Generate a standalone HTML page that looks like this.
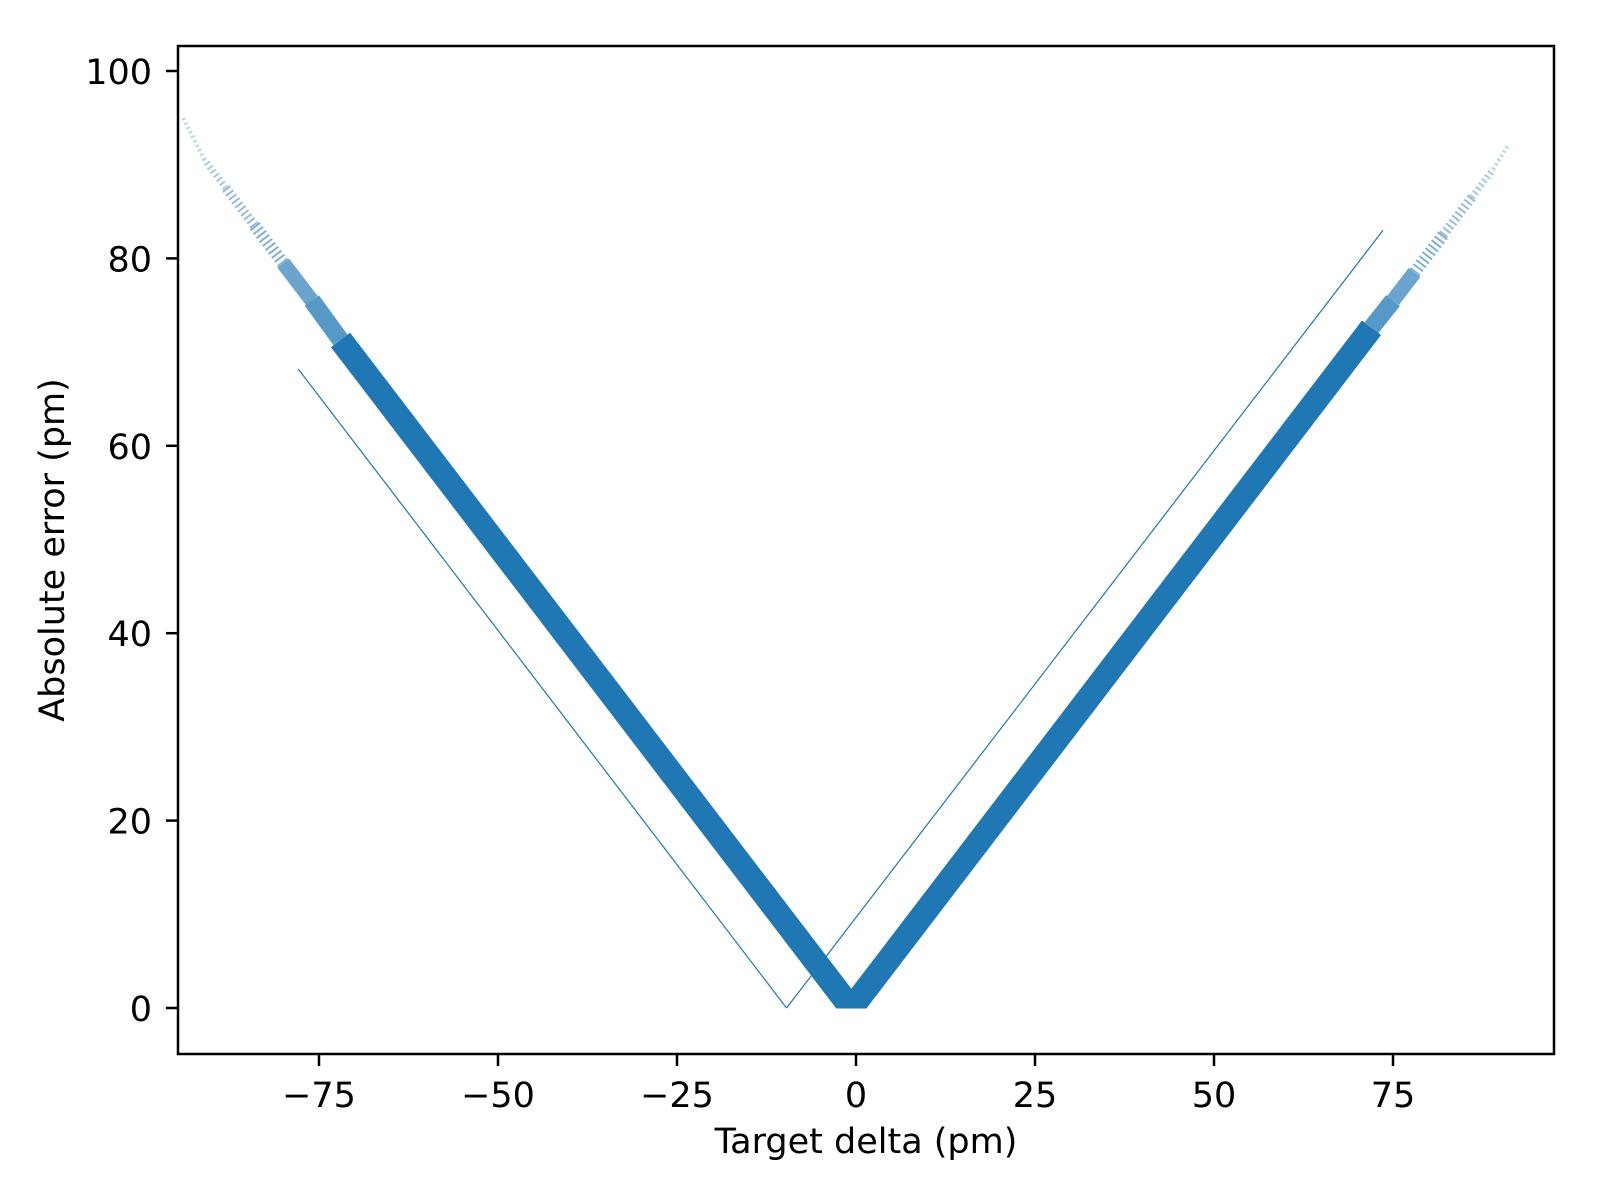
<!DOCTYPE html>
<html><head><meta charset="utf-8"><style>
html,body{margin:0;padding:0;background:#fff;}
svg{display:block;font-family:"DejaVu Sans","Liberation Sans",sans-serif;}
</style></head><body>
<svg id="chart" width="1600" height="1200" viewBox="0 0 1600 1200" xmlns="http://www.w3.org/2000/svg">
<defs><clipPath id="clip"><rect x="178" y="46" width="1376" height="962.5"/></clipPath></defs>
<rect width="1600" height="1200" fill="#fff"/>
<g id="plot" clip-path="url(#clip)"></g>
<g id="axes"></g>
</svg>
<script>
// Data arrays
const xTicks = [-75, -50, -25, 0, 25, 50, 75];
const xTickLabels = ["\u221275", "\u221250", "\u221225", "0", "25", "50", "75"];
const yTicks = [0, 20, 40, 60, 80, 100];
const yTickLabels = ["0", "20", "40", "60", "80", "100"];
// main band centre line (delta, absolute error)
const bandX = [-72, -0.65, 72];
const bandY = [71.3, -0.05, 72.6];
// sparse tails: delta, error
const leftTailX = [-72, -76, -80, -84, -88, -91, -94];
const leftTailY = [71.3, 75.5, 79.5, 83.5, 87.5, 90.5, 95];
const rightTailX = [72, 75, 78, 82, 86, 89, 91];
const rightTailY = [72.6, 75.5, 78.5, 82.5, 86.5, 89.5, 92];
// thin secondary lines (vertex near -9.5)
const thinLeftX = [-9.7, -77.9];
const thinLeftY = [0, 68.2];
const thinRightX = [-9.7, 73.6];
const thinRightY = [0, 83];

const X = v => 856 + 7.16 * v;
const Y = v => 1008 - 9.37 * v;
const NS = "http://www.w3.org/2000/svg";
const plot = document.getElementById('plot');
const axes = document.getElementById('axes');
const C = "#1f77b4";
function mk(tag, attrs, parent){const e=document.createElementNS(NS,tag);for(const k in attrs)e.setAttribute(k,attrs[k]);parent.appendChild(e);return e;}
function pts(xs, ys){return xs.map((x,i)=>X(x)+","+Y(ys[i])).join(" ");}

let b = mk('polyline',{points:pts(bandX,bandY),fill:"none",stroke:C,"stroke-width":24,"stroke-linejoin":"miter","stroke-miterlimit":10},plot);



function tail(xs, ys, name){
  const n = xs.length;
  for(let i=0;i<n-1;i++){
    const w = 16*(1-i/(n-1))+1.5;
    const e = mk('line',{x1:X(xs[i]),y1:Y(ys[i]),x2:X(xs[i+1]),y2:Y(ys[i+1]),stroke:C,"stroke-width":w,"stroke-dasharray":i<2?"none":"2 3",opacity:(0.75-i*0.09).toFixed(2)},plot);
    
    
  }
}
tail(leftTailX,leftTailY,'left-tail-points');
tail(rightTailX,rightTailY,'right-tail-points');

function line(xs, ys, name, w){
  const e = mk('line',{x1:X(xs[0]),y1:Y(ys[0]),x2:X(xs[1]),y2:Y(ys[1]),stroke:C,"stroke-width":w},plot);
  
  
}
line(thinLeftX,thinLeftY,'thin-left-line',1.2);
line(thinRightX,thinRightY,'thin-right-line',1.2);

// frame
let f = mk('rect',{x:178,y:46,width:1376,height:1008,fill:"none",stroke:"#000","stroke-width":2.5},axes);



xTicks.forEach((v,i)=>{
  const t = mk('line',{x1:X(v),y1:1054,x2:X(v),y2:1066,stroke:"#000","stroke-width":2.5},axes);
  
  
  const l = mk('text',{x:X(v),y:1107,"text-anchor":"middle","font-size":35,fill:"#000"},axes);
  l.textContent = xTickLabels[i];
  
  
});
yTicks.forEach((v,i)=>{
  const t = mk('line',{x1:166,y1:Y(v),x2:178,y2:Y(v),stroke:"#000","stroke-width":2.5},axes);
  
  
  const l = mk('text',{x:152,y:Y(v)+13,"text-anchor":"end","font-size":35,fill:"#000"},axes);
  l.textContent = yTickLabels[i];
  
  
});
let xt = mk('text',{x:866,y:1153,"text-anchor":"middle","font-size":35,fill:"#000"},axes);
xt.textContent = "Target delta (pm)";


let yt = mk('text',{x:0,y:0,"text-anchor":"middle","font-size":35,fill:"#000",transform:"translate(64,550) rotate(-90)"},axes);
yt.textContent = "Absolute error (pm)";


</script>
</body></html>
